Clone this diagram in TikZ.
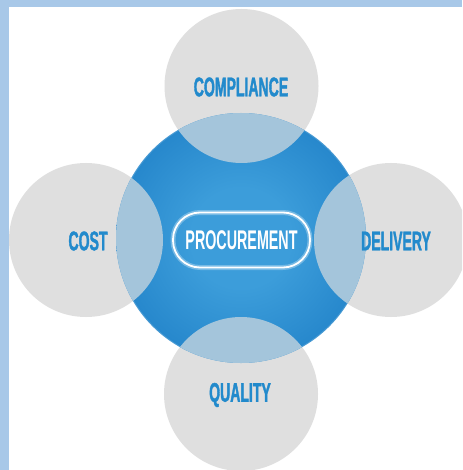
\documentclass[tikz,border=0pt]{standalone}
\usepackage{fontspec}
\newfontfamily\condfont[FakeStretch=0.53]{Liberation Sans}
\newfontfamily\heavyfont[FakeStretch=0.52,FakeBold=1.3]{Liberation Sans}
\definecolor{frameblue}{RGB}{168,200,232}
\definecolor{petalgray}{RGB}{223,223,223}
\definecolor{lensblue}{RGB}{164,197,219}
\definecolor{txtblue}{RGB}{34,138,204}
\definecolor{pin}{RGB}{60,157,218}
\definecolor{pout}{RGB}{20,117,192}
\pgfdeclareradialshading{procshade}{\pgfpoint{0bp}{0bp}}{color(0bp)=(pin); color(10bp)=(pin); color(38bp)=(pout); color(50bp)=(pout); color(100bp)=(pout)}
\tikzset{
  petal/.style={circle, fill=petalgray, minimum size=154pt, inner sep=0pt},
  lbl/.style={font=\heavyfont\bfseries\fontsize{27}{27}\selectfont, text=txtblue, inner sep=0pt},
  proc/.style={draw=white, line width=1.8pt, rounded corners=27pt, minimum width=137pt, minimum height=55pt,
    font=\condfont\bfseries\fontsize{27}{27}\selectfont, text=white}
}
\begin{document}
\begin{tikzpicture}[x=1pt,y=-1pt]
\useasboundingbox (0,0) rectangle (462,470);
\fill[frameblue] (0,0) rectangle (462,470);
\fill[white] (8.5,7.5) rectangle (462,470);
\begin{scope}
\clip (8.5,7.5) rectangle (462,470);
% outer petals
\node[petal] (top) at (241.5,86) {};
\node[petal] (left) at (86,240) {};
\node[petal] (right) at (391,240) {};
\node[petal] (bottom) at (241,394) {};
% central circle
\shade[shading=procshade] (241,238) circle[radius=125];
\draw[white, opacity=0.15, line width=1pt] (241,238) circle[radius=124.5];
\node[circle, minimum size=250pt, inner sep=0pt] (core) at (241,238) {};
% lenses
\begin{scope}
\clip (241,238) circle[radius=125];
\fill[lensblue] (top.center) circle[radius=77];
\fill[lensblue] (left.center) circle[radius=77];
\fill[lensblue] (right.center) circle[radius=77];
\fill[lensblue] (bottom.center) circle[radius=77];
\end{scope}
\end{scope}
% labels
\node[lbl] at (241,87) {COMPLIANCE};
\node[lbl] at (88,241) {COST};
\node[lbl] at (396,241) {DELIVERY};
\node[lbl] at (240,395) {QUALITY};
\node[proc, draw=white, opacity=0.3, line width=5pt, text opacity=0] at (241.5,240) {PROCUREMENT};
\node[proc] (procnode) at (241.5,240) {PROCUREMENT};
\end{tikzpicture}
\end{document}
